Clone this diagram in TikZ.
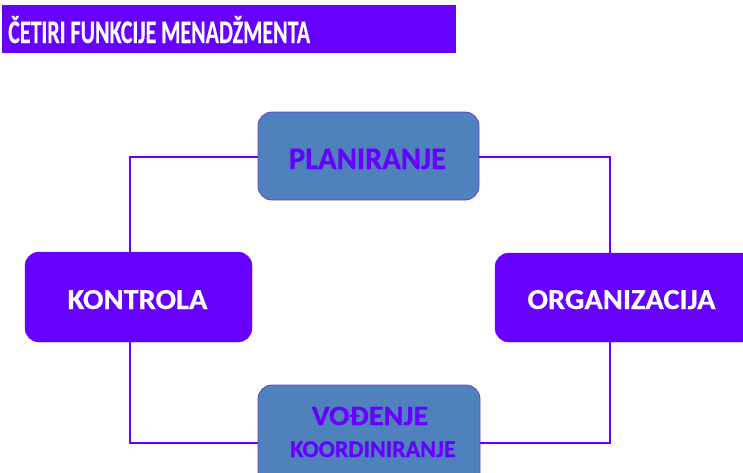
\documentclass[tikz,border=0pt]{standalone}
\usepackage{fontspec}
\setmainfont{Carlito}[BoldFeatures={FakeBold=0.5}]
\definecolor{vio}{HTML}{6600FF}
\definecolor{steel}{HTML}{4F81BD}
\definecolor{edgev}{HTML}{6B3FD0}
\tikzset{
  purplebox/.style={draw=vio, fill=vio, rounded corners=14pt, inner sep=0pt},
  bluebox/.style={draw=edgev, line width=0.8pt, fill=steel, rounded corners=14pt, inner sep=0pt},
  lbl/.style={anchor=base, inner sep=0pt},
  conn/.style={draw=vio, line width=2.2pt}
}
\begin{document}
\begin{tikzpicture}[x=1pt,y=-1pt]
\useasboundingbox (0,0) rectangle (743,472);
\clip (0,0) rectangle (743,472);
% title
\fill[vio] (2,5) rectangle (456,53);
\node[anchor=base west, text=white, inner sep=0pt] (title) at (8,43)
  {\scalebox{1}[1.5]{\bfseries\fontsize{22}{26}\selectfont ČETIRI FUNKCIJE MENADŽMENTA}};
% corner coordinates
\coordinate (tl) at (130,157);
\coordinate (tr) at (610,157);
\coordinate (bl) at (130,443);
\coordinate (br) at (610,443);
% boxes
\node[bluebox, minimum width=221pt, minimum height=88pt] (plan) at (368.5,156) {};
\node[purplebox, minimum width=227pt, minimum height=90pt] (kon) at (138.5,297) {};
\node[purplebox, minimum width=260pt, minimum height=89pt] (org) at (625,297.5) {};
\node[bluebox, minimum width=222pt, minimum height=110pt] (vod) at (369,440) {};
% connectors
\draw[conn] (plan.west |- tl) -- (tl) -- (kon.north -| tl);
\draw[conn] (kon.south -| bl) -- (bl) -- (vod.west |- bl);
\draw[conn] (plan.east |- tr) -- (tr) -- (org.north -| tr);
\draw[conn] (org.south -| br) -- (br) -- (vod.east |- br);
% labels
\node[lbl, text=vio] (plant) at (367.5,169) {\scalebox{1.02}[1.05]{\bfseries\fontsize{30}{34}\selectfont PLANIRANJE}};
\node[lbl, text=white] (kont) at (137.5,309) {\scalebox{1.05}[1]{\bfseries\fontsize{29}{33}\selectfont KONTROLA}};
\node[lbl, text=white] (orgt) at (621.5,309) {\scalebox{1.05}[1]{\bfseries\fontsize{29}{33}\selectfont ORGANIZACIJA}};
\node[lbl, text=vio] (vodt) at (370,425) {\scalebox{1.08}[1]{\bfseries\fontsize{28}{32}\selectfont VOĐENJE}};
\node[lbl, text=vio] (koort) at (373,457) {\bfseries\fontsize{24}{28}\selectfont KOORDINIRANJE};
\end{tikzpicture}
\end{document}
